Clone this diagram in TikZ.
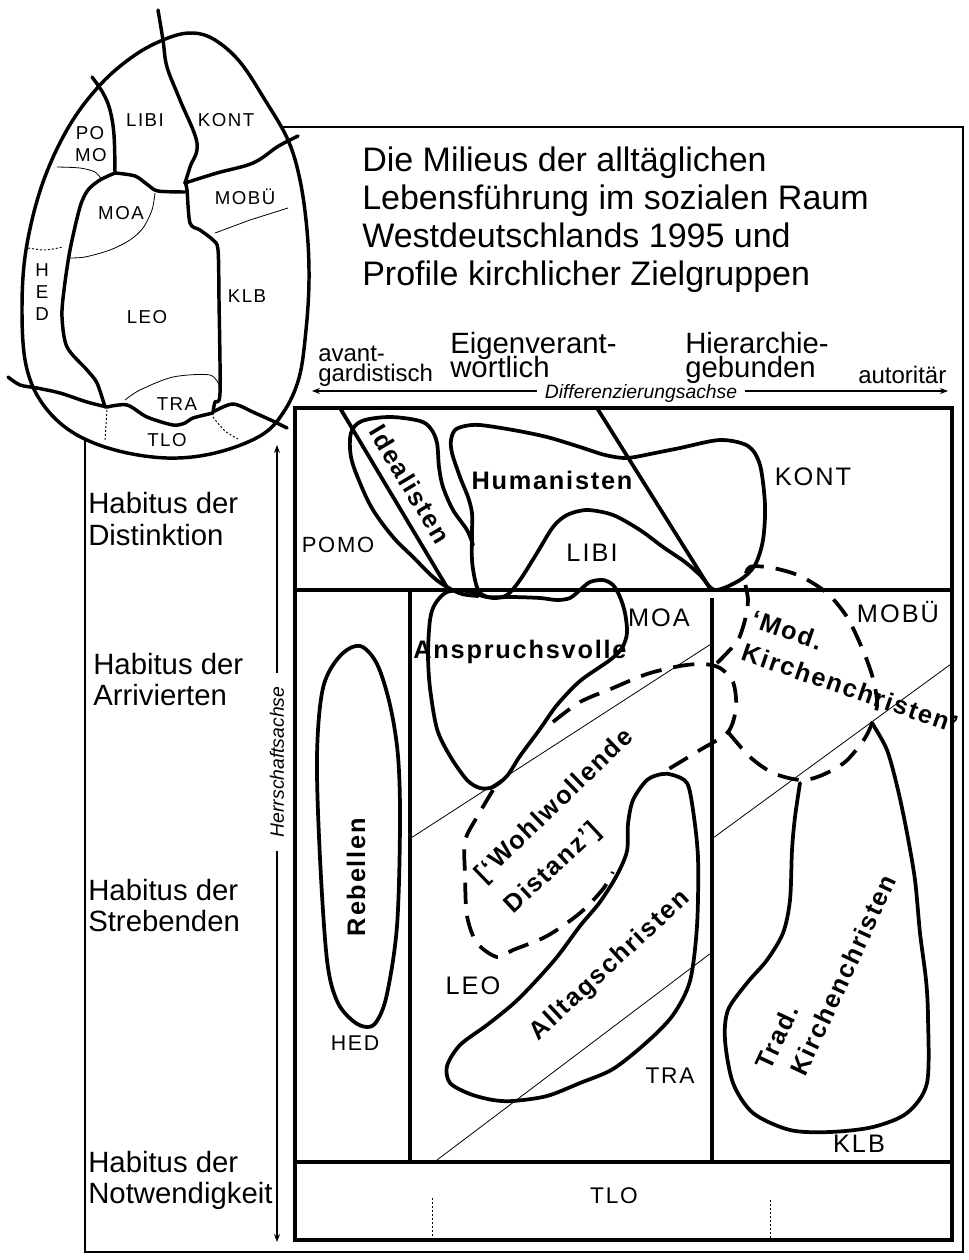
\documentclass[tikz,border=0pt]{standalone}
\usepackage{fontspec}
\setmainfont{Liberation Sans}
\newfontfamily\lsB[LetterSpace=7]{Liberation Sans}
\newfontfamily\lsR[LetterSpace=8]{Liberation Sans}
\usetikzlibrary{arrows.meta}
\begin{document}
\begin{tikzpicture}[x=0.75pt,y=-0.75pt,
  thickln/.style={line width=2.8pt, line join=round, line cap=round},
  eggln/.style={line width=2.6pt, line join=round, line cap=round},
  thinln/.style={line width=0.6pt},
  dotln/.style={line width=0.7pt, dash pattern=on 1.5pt off 1.5pt},
  dashln/.style={line width=2.8pt, dash pattern=on 16pt off 9pt},
  frameln/.style={line width=1pt},
  boxln/.style={line width=3pt},
  axis/.style={line width=0.9pt},
  tip/.style={-{Stealth[length=6pt,width=4.5pt]}},
  bold/.style={font=\lsB\bfseries\fontsize{19}{21}\selectfont, inner sep=0pt},
  reg/.style={font=\lsR\fontsize{19}{21}\selectfont, inner sep=0pt},
  egglbl/.style={font=\lsR\fontsize{14}{15}\selectfont, inner sep=0pt},
  hab/.style={font=\fontsize{22}{24}\selectfont, anchor=base west, inner sep=0pt},
  ttl/.style={font=\fontsize{25.5}{28}\selectfont, anchor=base west, inner sep=0pt},
  dim/.style={font=\fontsize{22}{24}\selectfont, anchor=base west, inner sep=0pt},
  small/.style={font=\fontsize{18}{20}\selectfont, anchor=base west, inner sep=0pt},
  axlbl/.style={font=\itshape\fontsize{14.5}{16}\selectfont, inner sep=6pt}
]
\useasboundingbox (0,0) rectangle (969,1260);

% ---------- outer thin frame ----------
\draw[frameln] (283,127) -- (963,127) -- (963,1252) -- (85,1252) -- (85,440);

% ---------- egg ----------
\draw[eggln] plot[smooth cycle, tension=0.6] coordinates {
 (193,33) (215,40) (240,62) (265,100) (288,140) (300,180) (307,230) (309,280)
 (306,330) (299,378) (283,413) (260,436) (215,453) (167,458) (115,450)
 (72,432) (42,403) (26,365) (22,310) (26,250) (42,185) (68,128) (100,85) (135,55) (168,38)};
\draw[eggln] plot[smooth, tension=0.6] coordinates {(158,10) (163,40) (167,67) (180,100) (197,143) (190,167) (185,183)};
\draw[eggln] plot[smooth, tension=0.6] coordinates {(185,183) (217,173) (253,163) (277,147) (290,140) (298,136)};
\draw[eggln] plot[smooth, tension=0.6] coordinates {(92,77) (103,93) (110,110) (114,135) (115,173)};
\draw[eggln] plot[smooth, tension=0.5] coordinates {(115,173) (135,176) (148,185) (158,191) (185,192)};
\draw[eggln] plot[smooth, tension=0.5] coordinates {(115,173) (100,180) (88,190) (80,207) (70,250) (64,290) (62,317) (67,347) (87,370) (97,383) (105,407)};
\draw[eggln] plot[smooth, tension=0.5] coordinates {(185,182) (187,190) (190,223) (200,230) (213,240) (218,250) (219,300) (220,393) (215,402) (213,412)};
\draw[eggln] plot[smooth, tension=0.5] coordinates {(8,377) (20,385) (37,388) (60,393) (87,402) (107,407)};
\draw[eggln] plot[smooth, tension=0.5] coordinates {(107,407) (127,405) (147,417) (173,425) (185,423) (193,418) (213,413)};
\draw[eggln] plot[smooth, tension=0.5] coordinates {(213,412) (233,404) (255,413) (275,422) (287,428)};
% thin egg lines
\draw[thinln] plot[smooth] coordinates {(57,167) (80,168) (95,172) (102,180)};
\draw[thinln] plot[smooth] coordinates {(155,193) (152,210) (143,228) (130,240) (110,250) (85,257) (68,258)};
\draw[thinln] (215,233) -- (250,220) -- (288,208);
\draw[thinln] plot[smooth] coordinates {(125,400) (140,390) (173,377) (210,375) (220,387)};
\draw[dotln] plot[smooth] coordinates {(28,248) (45,250) (63,247)};
\draw[dotln] (107,410) -- (105,440);
\draw[dotln] plot[smooth] coordinates {(213,417) (225,431) (240,440)};
% egg labels
\node[egglbl] (eLIBI) at (145,120) {LIBI};
\node[egglbl] (eKONT) at (226,120) {KONT};
\node[egglbl] (ePO) at (90,133) {PO};
\node[egglbl] (eMO) at (91,155) {MO};
\node[egglbl] (eMOBU) at (245,197) {MOBÜ};
\node[egglbl] (eMOA) at (121,213) {MOA};
\node[egglbl] (eH) at (42,270) {H};
\node[egglbl] (eE) at (42,292) {E};
\node[egglbl] (eD) at (42,314) {D};
\node[egglbl] (eLEO) at (147,317) {LEO};
\node[egglbl] (eKLB) at (247,296) {KLB};
\node[egglbl] (eTRA) at (177,404) {TRA};
\node[egglbl] (eTLO) at (167,440) {TLO};

% ---------- title ----------
\node[ttl] (t1) at (362,171) {Die Milieus der alltäglichen};
\node[ttl] (t2) at (362,209) {Lebensführung im sozialen Raum};
\node[ttl] (t3) at (362,247) {Westdeutschlands 1995 und};
\node[ttl] (t4) at (362,285) {Profile kirchlicher Zielgruppen};

% ---------- horizontal axis ----------
\node[small] (av1) at (318,361) {avant-};
\node[small] (av2) at (318,381) {gardistisch};
\node[dim] (ei1) at (450,353) {Eigenverant-};
\node[dim] (ei2) at (450,377) {wortlich};
\node[dim] (hi1) at (685,353) {Hierarchie-};
\node[dim] (hi2) at (685,377) {gebunden};
\node[small] (aut) at (858,383) {autoritär};
\node[axlbl] (diff) at (641,393) {Differenzierungsachse};
\coordinate (dL) at (312,391);
\coordinate (dR) at (948,391);
\draw[axis,tip] (diff.west |- dL) -- (dL);
\draw[axis,tip] (diff.east |- dR) -- (dR);

% ---------- vertical axis ----------
\node[axlbl, rotate=90, inner sep=10pt] (herr) at (277,762) {Herrschaftsachse};
\coordinate (hT) at (277,445);
\coordinate (hB) at (277,1242);
\draw[axis,tip] (herr.east) -- (hT);
\draw[axis,tip] (herr.west) -- (hB);

% ---------- habitus labels ----------
\node[hab] (h1a) at (88,513) {Habitus der};
\node[hab] (h1b) at (88,545) {Distinktion};
\node[hab] (h2a) at (93,674) {Habitus der};
\node[hab] (h2b) at (93,705) {Arrivierten};
\node[hab] (h3a) at (88,900) {Habitus der};
\node[hab] (h3b) at (88,931) {Strebenden};
\node[hab] (h4a) at (88,1172) {Habitus der};
\node[hab] (h4b) at (88,1203) {Notwendigkeit};

% ---------- main box ----------
\draw[boxln] (295,408) rectangle (952,1240);
\draw[boxln] (295,590) -- (952,590);
\draw[boxln] (295,1162) -- (952,1162);
\draw[boxln] (410,590) -- (410,1162);
\draw[boxln] (712,598) -- (712,1162);
\draw[thickln] (340,408) -- (448,589);
\draw[thickln] (597,408) -- (711,590);
% thin class lines
\draw[thinln] (411,838) -- (711,644);
\draw[thinln] (713,838) -- (951,664);
\draw[thinln] (437,1160) -- (711,953);
\draw[dotln] (432,1198) -- (432,1238);
\draw[dotln] (770,1200) -- (770,1238);

% ---------- milieu shapes ----------
% Humanisten / LIBI notch
\draw[thickln] plot[smooth cycle, tension=0.5] coordinates {
 (452,453) (451,440) (455,430) (465,426) (480,425) (513,430) (547,437) (580,447) (605,455)
 (627,458) (655,453) (680,448) (720,440) (748,446) (760,465) (765,505) (763,540) (755,565)
 (740,580) (715,590) (700,575) (685,562) (663,547) (640,530) (613,515) (587,510) (567,515)
 (553,527) (537,553) (520,580) (507,595) (493,598) (480,593) (475,580) (472,560) (472,533)
 (472,513) (468,497) (460,477)};
% Idealisten
\draw[thickln] plot[smooth, tension=0.55] coordinates {
 (473,545) (467,530) (453,510) (443,487) (439,467) (437,443) (431,429) (420,421) (390,417)
 (362,421) (351,433) (351,457) (360,483) (373,510) (393,537) (413,557) (433,577) (447,587)
 (462,594) (478,596)};
% Anspruchsvolle
\draw[thickln] plot[smooth cycle, tension=0.5] coordinates {
 (447,592) (467,591) (487,597) (513,597) (540,598) (557,600) (570,598) (580,590) (590,582)
 (603,580) (613,585) (620,597) (625,613) (627,633) (622,648) (610,660) (580,681) (557,705)
 (540,729) (520,756) (507,776) (493,787) (480,788) (467,780) (450,756) (437,729) (430,688)
 (428,654) (430,620) (435,604)};
% Rebellen
\draw[thickln] plot[smooth cycle, tension=0.55] coordinates {
 (360,646) (377,664) (390,705) (398,756) (400,824) (397,926) (387,994) (377,1021) (367,1027)
 (353,1021) (337,1001) (327,960) (320,858) (317,756) (323,688) (340,656)};
% Alltagschristen
\draw[thickln] plot[smooth cycle, tension=0.5] coordinates {
 (673,775) (687,783) (693,810) (698,858) (697,926) (690,981) (673,1015) (647,1042) (613,1069)
 (580,1083) (547,1096) (513,1101) (493,1100) (470,1094) (450,1083) (447,1066) (460,1045)
 (487,1025) (513,1004) (533,984) (557,957) (580,926) (600,902) (617,875) (627,851) (628,824)
 (633,800) (647,780) (662,774)};
% Trad. Kirchenchristen
\draw[thickln] plot[smooth, tension=0.5] coordinates {
 (872,723) (887,750) (898,790) (907,833) (915,880) (920,933) (926,980) (928,1017) (927,1083)
 (907,1113) (873,1127) (830,1132) (790,1130) (753,1113) (733,1083) (725,1040) (728,1010)
 (747,983) (767,960) (783,933) (790,900) (792,850) (795,817) (800,783)};
% Wohlwollende Distanz (dashed)
\draw[dashln] plot[smooth, tension=0.5] coordinates {
 (493,790) (477,817) (465,841) (465,875) (467,916) (477,943) (497,957) (513,950) (547,936)
 (580,913) (603,889) (613,872)};
\draw[dashln] plot[smooth, tension=0.5] coordinates {
 (553,722) (580,702) (613,688) (647,674) (680,666) (703,664) (720,668) (733,682) (736,707)
 (728,732) (700,750) (667,770)};
% Mod. Kirchenchristen (dashed)
\draw[dashln] plot[smooth, tension=0.5] coordinates {
 (728,732) (750,757) (773,773) (800,780) (820,776) (845,762) (865,738) (875,715) (877,700)
 (872,675) (862,648) (847,617) (827,593) (800,576) (773,568) (750,567) (745,580) (748,600)
 (745,620) (738,640) (725,655) (715,665)};

% ---------- shape labels ----------
\node[bold, rotate=-59] (ideal) at (410,484) {Idealisten};
\node[bold] (human) at (552,480) {Humanisten};
\node[bold] (anspr) at (520,652) {Anspruchsvolle};
\node[bold, rotate=90] (rebel) at (356,877) {Rebellen};
\node[bold, rotate=44] (wohl1) at (555,806) {[‘Wohlwollende};
\node[bold, rotate=43] (wohl2) at (553,869) {Distanz’]};
\node[bold, rotate=43] (alltag) at (610,966) {Alltagschristen};
\node[bold, rotate=65] (trad1) at (777,1037) {Trad.};
\node[bold, rotate=65] (trad2) at (843,975) {Kirchenchristen};
\node[bold, rotate=-19] (mod1) at (787,630) {‘Mod.};
\node[bold, rotate=-19] (mod2) at (850,688) {Kirchenchristen’};

% ---------- region labels ----------
\node[reg, font=\lsR\fontsize{16.5}{18}\selectfont] (POMO) at (338,545) {POMO};
\node[reg] (LIBI) at (592,553) {LIBI};
\node[reg] (KONT) at (813,477) {KONT};
\node[reg] (MOA) at (659,618) {MOA};
\node[reg] (MOBU) at (898,612) {MOBÜ};
\node[reg, font=\lsR\fontsize{16}{18}\selectfont] (HED) at (355,1043) {HED};
\node[reg] (LEO) at (473,986) {LEO};
\node[reg, font=\lsR\fontsize{17}{18}\selectfont] (TRA) at (670,1076) {TRA};
\node[reg] (KLB) at (859,1144) {KLB};
\node[reg, font=\lsR\fontsize{17}{18}\selectfont] (TLO) at (614,1196) {TLO};
\end{tikzpicture}
\end{document}
